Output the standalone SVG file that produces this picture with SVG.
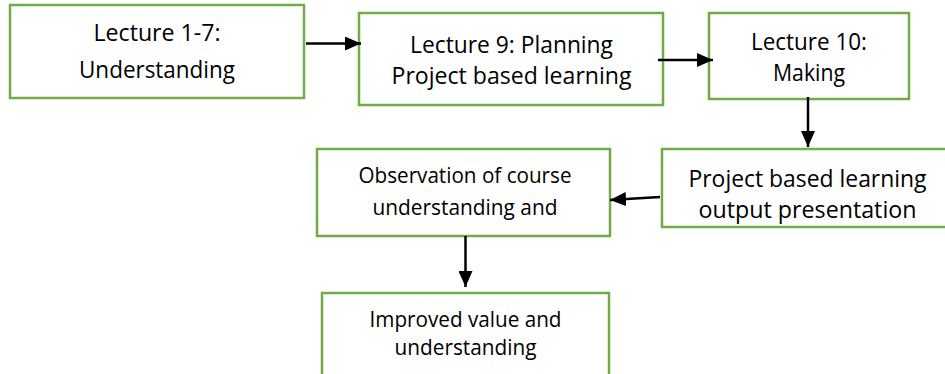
<svg xmlns="http://www.w3.org/2000/svg" width="945" height="374" viewBox="0 0 945 374">
  <style>
    .box { fill: #ffffff; stroke: #70ad47; stroke-width: 2.5; }
    .t { font-family: "Open Sans", "Liberation Sans", sans-serif; fill: #000000; text-anchor: middle; }
    .big { font-size: 24px; }
    .small { font-size: 21.5px; }
    .conn { stroke: #000000; stroke-width: 2.5; fill: none; }
  </style>
  <defs>
    <marker id="arrow" markerUnits="userSpaceOnUse" markerWidth="16" markerHeight="14" refX="16" refY="7" orient="auto">
      <path d="M0,0 L16,7 L0,14 z" fill="#000000"/>
    </marker>
  </defs>
  <rect x="0" y="0" width="945" height="374" fill="#ffffff"/>

  <g id="node-lecture1-7">
    <rect class="box" x="10" y="5" width="294" height="93"/>
    <text class="t big" x="157" y="41" textLength="127" lengthAdjust="spacingAndGlyphs">Lecture 1-7:</text>
    <text class="t big" x="157" y="78" textLength="156" lengthAdjust="spacingAndGlyphs">Understanding</text>
  </g>

  <g id="node-lecture9">
    <rect class="box" x="359" y="13" width="304" height="92"/>
    <text class="t big" x="511.5" y="53" textLength="203" lengthAdjust="spacingAndGlyphs">Lecture 9: Planning</text>
    <text class="t big" x="511.5" y="84" textLength="240" lengthAdjust="spacingAndGlyphs">Project based learning</text>
  </g>

  <g id="node-lecture10">
    <rect class="box" x="709" y="13" width="200" height="86"/>
    <text class="t big" x="809" y="50" textLength="116" lengthAdjust="spacingAndGlyphs">Lecture 10:</text>
    <text class="t big" x="809" y="81" textLength="72" lengthAdjust="spacingAndGlyphs">Making</text>
  </g>

  <g id="node-output">
    <rect class="box" x="662" y="149" width="292" height="78"/>
    <text class="t big" x="807.5" y="187" textLength="238" lengthAdjust="spacingAndGlyphs">Project based learning</text>
    <text class="t big" x="807.5" y="218" textLength="218" lengthAdjust="spacingAndGlyphs">output presentation</text>
  </g>

  <g id="node-observation">
    <rect class="box" x="317" y="149" width="293" height="87"/>
    <text class="t small" x="465" y="183" textLength="213" lengthAdjust="spacingAndGlyphs">Observation of course</text>
    <text class="t small" x="465" y="215" textLength="185" lengthAdjust="spacingAndGlyphs">understanding and</text>
  </g>

  <g id="node-improved">
    <rect class="box" x="322" y="293" width="287" height="100"/>
    <text class="t small" x="465.5" y="327" textLength="192" lengthAdjust="spacingAndGlyphs">Improved value and</text>
    <text class="t small" x="465.5" y="355" textLength="142" lengthAdjust="spacingAndGlyphs">understanding</text>
  </g>

  <g id="connectors">
    <line class="conn" x1="306" y1="43.5" x2="361" y2="43.5" marker-end="url(#arrow)"/>
    <line class="conn" x1="658" y1="60" x2="713" y2="60" marker-end="url(#arrow)"/>
    <line class="conn" x1="808" y1="97" x2="808" y2="147" marker-end="url(#arrow)"/>
    <line class="conn" x1="660" y1="197" x2="610" y2="200" marker-end="url(#arrow)"/>
    <line class="conn" x1="465.5" y1="236" x2="465.5" y2="287" marker-end="url(#arrow)"/>
  </g>
</svg>
